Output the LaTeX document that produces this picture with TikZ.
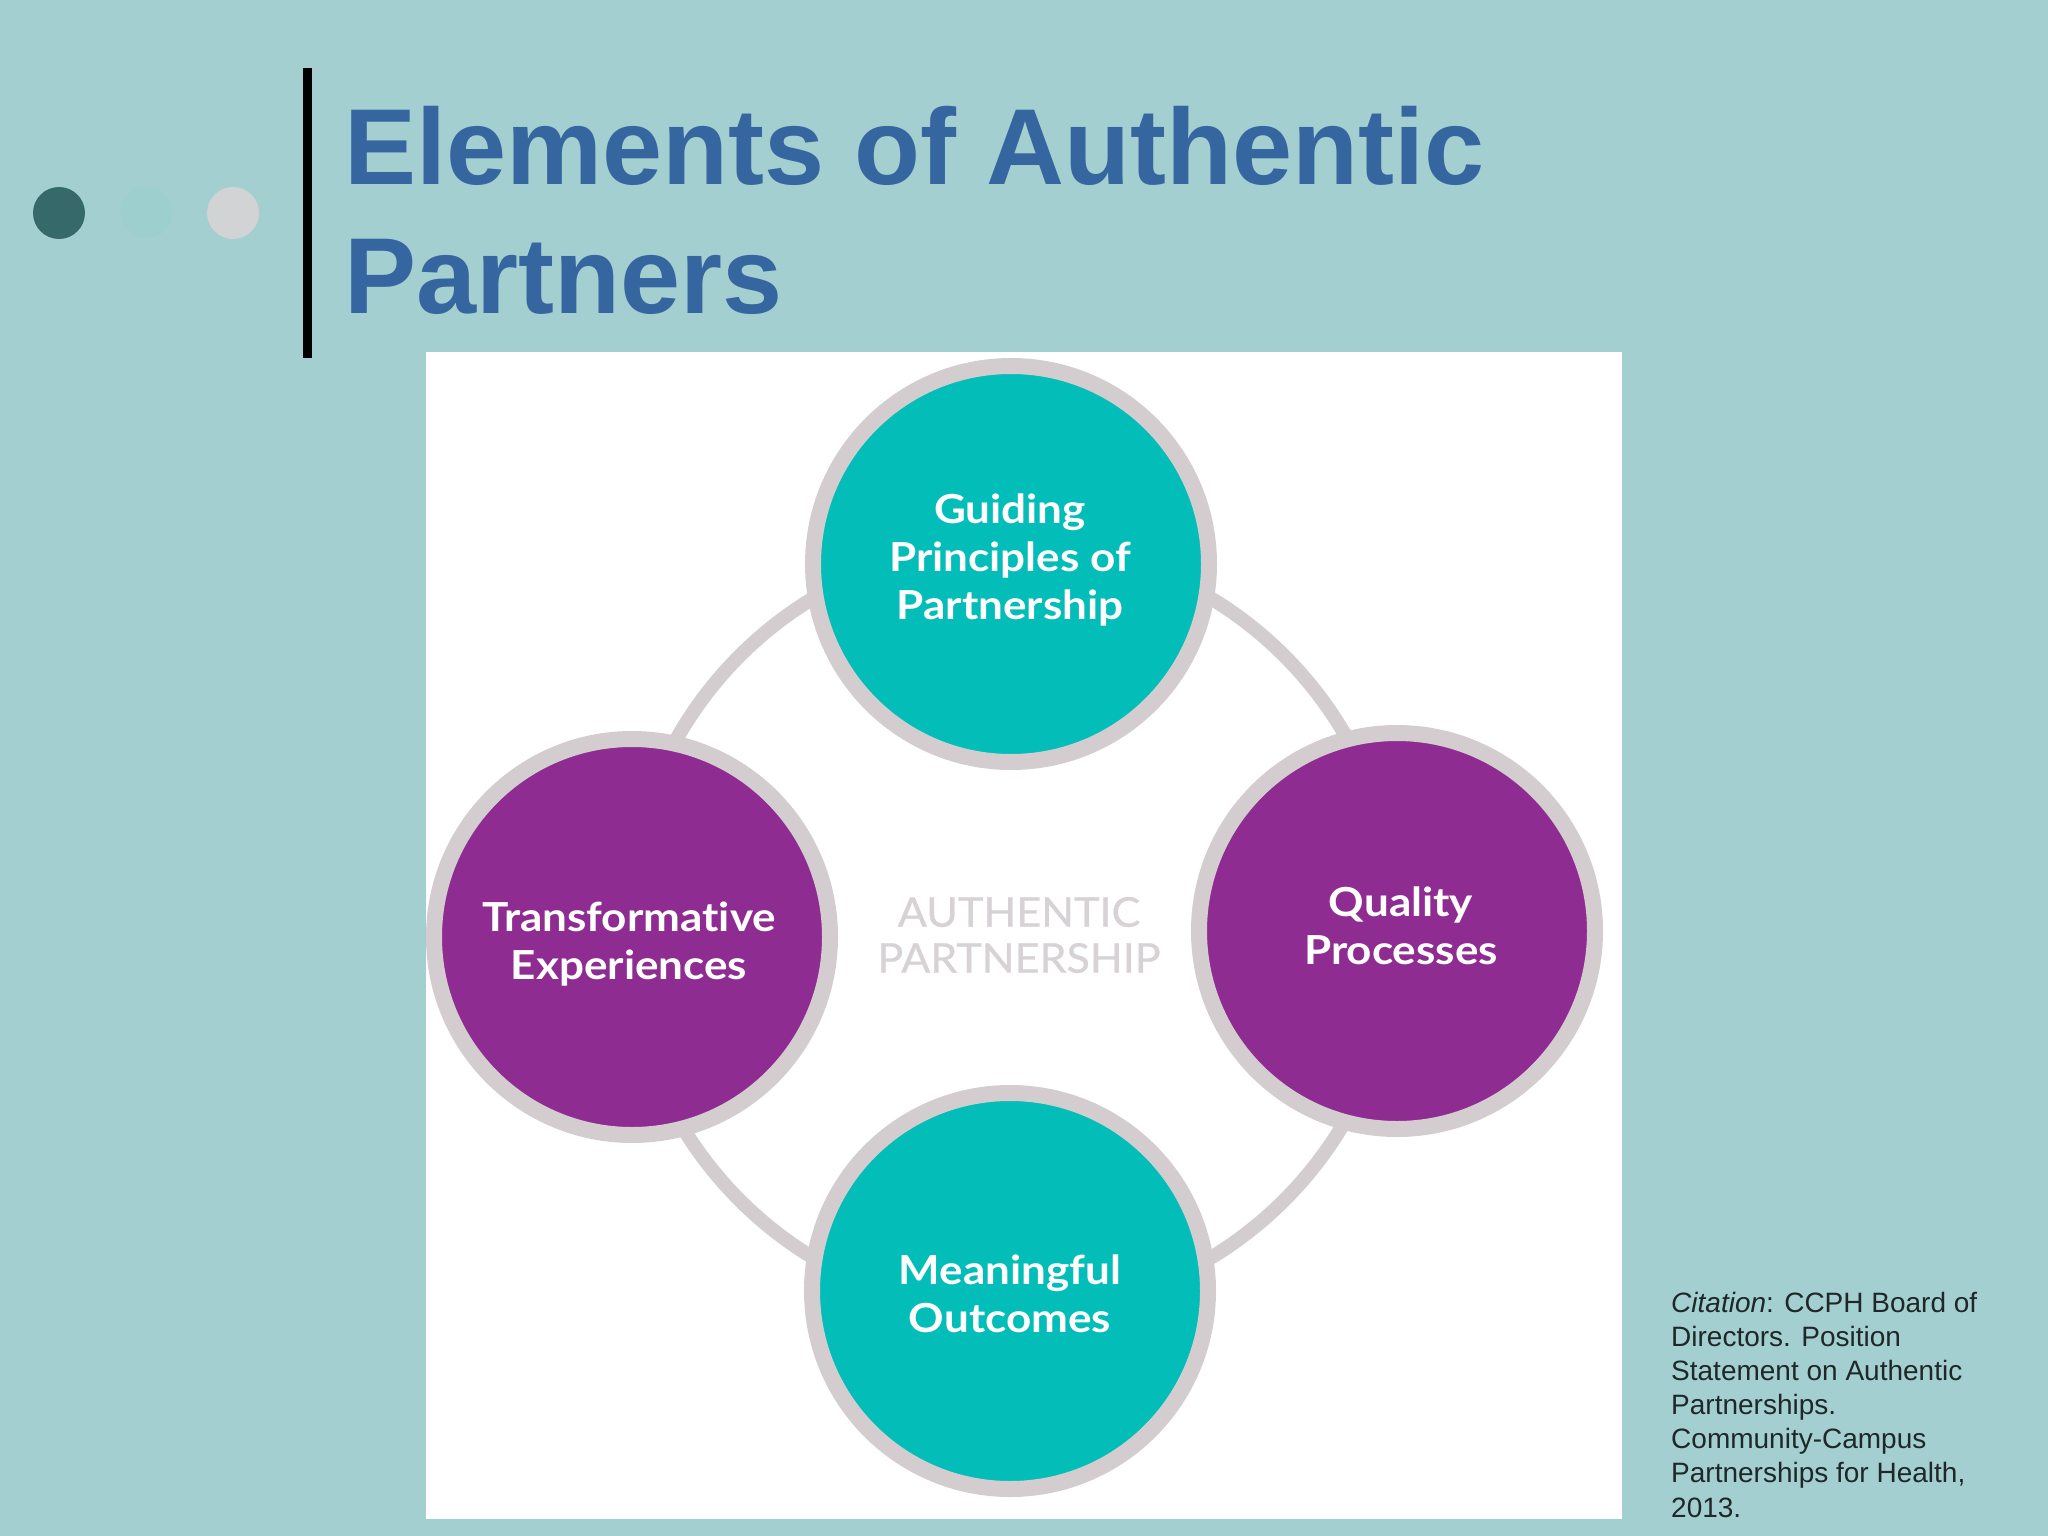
\documentclass[tikz,border=0pt]{standalone}
\usepackage{fontspec}
\setmainfont{Liberation Sans}
\newfontfamily\lato{Lato}[FakeStretch=1.1, Ligatures=NoCommon]
\newfontfamily\latoc{Lato}[FakeStretch=1.05, FakeBold=0.6]
\definecolor{bgcol}{HTML}{A4CFD0}
\definecolor{dotdark}{HTML}{35696A}
\definecolor{dotmid}{HTML}{9DCFCE}
\definecolor{dotlight}{HTML}{D2D3D5}
\definecolor{titleblue}{HTML}{3566A0}
\definecolor{tealc}{HTML}{03BDB8}
\definecolor{purplec}{HTML}{8E2C92}
\definecolor{ringgrey}{HTML}{D4CDCF}
\definecolor{centergrey}{HTML}{D7D2D5}
\definecolor{citecol}{HTML}{1F2828}
\begin{document}
\begin{tikzpicture}[x=1pt,y=-1pt,
  bubble/.style={circle, minimum size=396pt, inner sep=0pt, line width=16pt, draw=ringgrey},
  ringline/.style={draw=ringgrey, line width=14pt},
  bubbletext/.style={text=white, font=\lato\bfseries\fontsize{40}{48}\selectfont, align=center, inner sep=0pt},
  centertext/.style={text=centergrey, font=\latoc\fontsize{41}{46}\selectfont, align=center, inner sep=0pt},
  titletext/.style={text=titleblue, font=\bfseries\fontsize{108}{129}\selectfont, inner sep=0pt, anchor=base west},
  citetext/.style={text=citecol, font=\fontsize{28}{34}\selectfont, inner sep=0pt, anchor=base west}]
\fill[bgcol] (0,0) rectangle (2048,1536);
\useasboundingbox (0,0) rectangle (2048,1536);
% decorative dots and bar
\fill[dotdark] (59,213) circle[radius=26pt];
\fill[dotmid] (146,213) circle[radius=26pt];
\fill[dotlight] (233,213) circle[radius=26pt];
\fill[black] (303,68) rectangle (312,358);
% title
\node[titletext] (title1) at (344,184) {Elements of Authentic};
\node[titletext] (title2) at (344,313) {Partners};
% white panel
\fill[white] (426,352) rectangle (1622,1519);
\begin{scope}
  \clip (426,352) rectangle (1622,1519);
  \coordinate (c) at (1012,928);
  \draw[ringline] (c) circle[radius=385pt];
  \node[bubble, fill=tealc] (top) at (1011,564) {};
  \node[bubble, fill=purplec] (left) at (632,937) {};
  \node[bubble, fill=purplec] (right) at (1397,931) {};
  \node[bubble, fill=tealc] (bottom) at (1010,1291) {};
\end{scope}
\node[bubbletext] (toptext) at (1010,560) {Guiding\\Principles of\\Partnership};
\node[bubbletext] (lefttext) at (629,944) {Transformative\\Experiences};
\node[bubbletext] (righttext) at (1401,926) {Quality\\Processes};
\node[bubbletext] (bottomtext) at (1010,1294) {Meaningful\\Outcomes};
\node[centertext] (centertxt) at (1019,935) {AUTHENTIC\\PARTNERSHIP};
% citation
\node[citetext] (cit1) at (1671,1312) {\textit{Citation}: CCPH Board of};
\node[citetext] (cit2) at (1671,1346) {Directors. Position};
\node[citetext] (cit3) at (1671,1380) {Statement on Authentic};
\node[citetext] (cit4) at (1671,1414) {Partnerships.};
\node[citetext] (cit5) at (1671,1448) {Community-Campus};
\node[citetext] (cit6) at (1671,1482) {Partnerships for Health,};
\node[citetext] (cit7) at (1671,1517) {2013.};
\end{tikzpicture}
\end{document}
